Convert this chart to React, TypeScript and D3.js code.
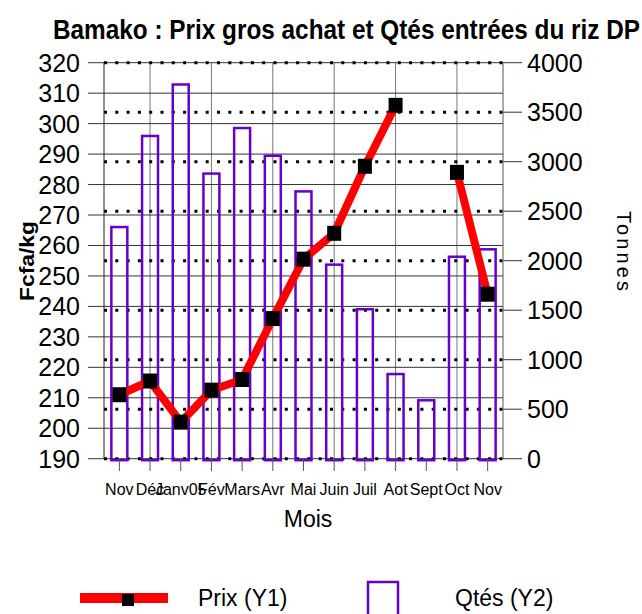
import React from 'react'
import * as d3 from 'd3'

// mois (Nov 2004 -> Nov 2005)
const months = ['Nov', 'Déc', 'Janv05', 'Fév', 'Mars', 'Avr', 'Mai', 'Juin', 'Juil', 'Aot', 'Sept', 'Oct', 'Nov']
// prix gros achat (Fcfa/kg), Sept manquant
const prix: (number | null)[] = [211, 215.5, 202, 212.5, 216, 236, 255.5, 264, 286, 306, null, 284, 244]
// quantités entrées (tonnes)
const qtes = [2340, 3260, 3780, 2880, 3340, 3060, 2700, 1960, 1510, 855, 590, 2040, 2115]
const leftTicks = d3.range(190, 321, 10)
const rightTicks = d3.range(0, 4001, 500)

const FONT = 'Liberation Sans, Arial, sans-serif'

const App = () => {
  const width = 642
  const height = 614
  const left = 104
  const right = 503
  const top = 62.7
  const bottom = 458.7

  const x = d3.scaleBand<number>().domain(months.map((_, i) => i)).range([left, right]).padding(0)
  const cx = (i: number) => (x(i) as number) + x.bandwidth() / 2
  const y1 = d3.scaleLinear().domain([190, 320]).range([bottom, top])
  const y2 = d3.scaleLinear().domain([0, 4000]).range([bottom, top])
  const barW = x.bandwidth() * 0.52

  const line = d3
    .line<number | null>()
    .defined((d) => d !== null)
    .x((_, i) => cx(i))
    .y((d) => y1(d as number))

  const mk = 14

  return (
    <svg width={width} height={height} style={{ position: 'absolute', left: 0, top: 0, background: '#fff' }} fontFamily={FONT}>
      <rect width={width} height={height} fill="#fff" />
      {/* titre */}
      <text x={53} y={39} fontSize={27} fontWeight="bold" textLength={587} lengthAdjust="spacingAndGlyphs">
        Bamako : Prix  gros achat et Qtés entrées  du riz DP
      </text>

      {/* grille verticale */}
      {months.map((_, i) =>
        i % 2 === 1 ? <line key={'v' + i} x1={cx(i)} x2={cx(i)} y1={top} y2={bottom} stroke="#777" strokeWidth={1} /> : null
      )}
      {/* grille horizontale (Y1) */}
      {leftTicks.map((t) => (
        <line key={'h' + t} x1={88} x2={right} y1={y1(t)} y2={y1(t)} stroke="#333" strokeWidth={1} />
      ))}
      {/* grille pointillée (Y2) */}
      {rightTicks.map((t) => (
        <g key={'d' + t}>
          <line x1={left} x2={right} y1={y2(t)} y2={y2(t)} stroke="#000" strokeWidth={3} strokeDasharray="3,8.3" />
          <line x1={right} x2={522} y1={y2(t)} y2={y2(t)} stroke="#333" strokeWidth={1} />
        </g>
      ))}
      {/* axes */}
      <line x1={left} x2={left} y1={top} y2={bottom} stroke="#222" />
      <line x1={right} x2={right} y1={top} y2={bottom} stroke="#555" />

      {/* barres */}
      {qtes.map((q, i) => (
        <rect
          key={'b' + i}
          x={cx(i) - barW / 2}
          y={y2(q)}
          width={barW}
          height={y2(0) - y2(q) + 1.5}
          fill="none"
          stroke="#6600cc"
          strokeWidth={2.5}
        />
      ))}

      {/* ticks x */}
      {months.map((_, i) => (
        <line key={'t' + i} x1={cx(i)} x2={cx(i)} y1={bottom} y2={471} stroke="#555" />
      ))}

      {/* prix */}
      <path d={line(prix) || ''} fill="none" stroke="#ff0000" strokeWidth={8} strokeLinejoin="round" />
      {prix.map((p, i) =>
        p === null ? null : (
          <rect key={'m' + i} x={cx(i) - mk / 2} y={y1(p) - (mk + 1) / 2} width={mk} height={mk + 1} fill="#000" />
        )
      )}

      {/* labels axes */}
      {leftTicks.map((t) => (
        <text key={'l' + t} x={80} y={y1(t)} dy="0.36em" fontSize={25} textAnchor="end">
          {t}
        </text>
      ))}
      {rightTicks.map((t) => (
        <text key={'r' + t} x={527} y={y2(t)} dy="0.36em" fontSize={25}>
          {t}
        </text>
      ))}
      {months.map((m, i) => (
        <text key={'x' + i} x={cx(i)} y={495} fontSize={16} textAnchor="middle">
          {m}
        </text>
      ))}
      <text x={308} y={527} fontSize={23} textAnchor="middle">
        Mois
      </text>
      <text
        transform="translate(34,261) rotate(-90)"
        fontSize={20}
        fontWeight="bold"
        textAnchor="middle"
        textLength={80}
        lengthAdjust="spacingAndGlyphs"
      >
        Fcfa/kg
      </text>
      <text transform="translate(617,251) rotate(90)" fontSize={20} textAnchor="middle" textLength={80} lengthAdjust="spacing">
        Tonnes
      </text>

      {/* légende */}
      <line x1={80} x2={168} y1={598} y2={598} stroke="#ff0000" strokeWidth={10} />
      <rect x={122} y={594} width={12} height={12} fill="#000" />
      <text x={198} y={606} fontSize={23}>
        Prix (Y1)
      </text>
      <rect x={368} y={582} width={30} height={40} fill="none" stroke="#6600cc" strokeWidth={2.5} />
      <text x={455} y={606} fontSize={23}>
        Qtés (Y2)
      </text>
    </svg>
  )
}

export default App
